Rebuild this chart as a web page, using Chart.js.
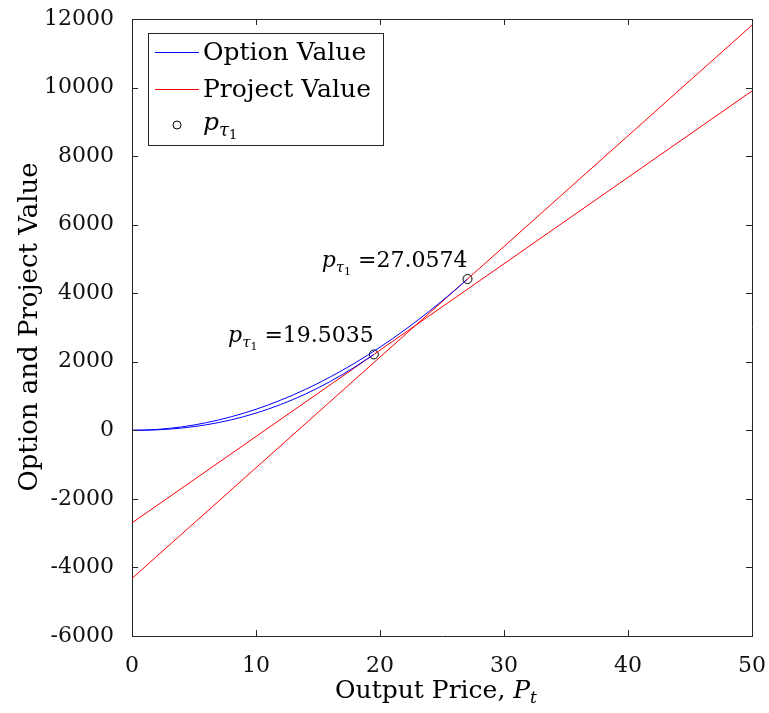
<!DOCTYPE html>
<html>
<head>
<meta charset="utf-8">
<title>Option and Project Value</title>
<script src="https://cdn.jsdelivr.net/npm/chart.js@4.4.0/dist/chart.umd.min.js"></script>
<style>
  html, body { margin: 0; padding: 0; background: #fff; }
  #wrap { width: 769px; height: 713px; }
</style>
</head>
<body>
<div id="wrap"><canvas id="chart" width="769" height="713"></canvas></div>
<script>
'use strict';

// option value curves
var priceGrid1 = [0, 2, 4, 6, 8, 10, 12, 14, 16, 18, 19.5035];
var optionValue1 = [0, 14, 66, 162, 306, 503, 754, 1061, 1427, 1854, 2215];

var priceGrid2 = [0, 2, 4, 6, 8, 10, 12, 14, 16, 18, 20, 22, 24, 26, 27.0574];
var optionValue2 = [0, 25, 100, 224, 396, 615, 882, 1197, 1560, 1970, 2426, 2930, 3481, 4079, 4414];

// project value lines
var projectPrice = [0, 50];
var projectValue1 = [-2700, 9900];
var projectValue2 = [-4320, 11820];

// thresholds
var thresholdPrice = [19.5035, 27.0574];
var thresholdValue = [2215, 4414];
var thresholdLabels = ['19.5035', '27.0574'];

var xRange = [0, 50];
var yRange = [-6000, 12000];

var SERIF = '"DejaVu Serif", "Liberation Serif", serif';
var AXIS = '#262626';

function pts(xs, ys) {
  var out = [];
  for (var i = 0; i < xs.length; i++) {
    out.push({x: xs[i], y: ys[i]});
  }
  return out;
}

// draws p_{tau_1} starting at x, returns width
function drawPTau(ctx, x, y, size, measureOnly) {
  var w = 0;
  ctx.font = 'italic ' + size + 'px ' + SERIF;
  var wp = ctx.measureText('p').width;
  if (!measureOnly) ctx.fillText('p', x, y);
  w += wp;
  var s2 = Math.round(size * 0.7);
  ctx.font = 'italic ' + s2 + 'px ' + SERIF;
  var wt = ctx.measureText('\u03c4').width;
  if (!measureOnly) ctx.fillText('\u03c4', x + w, y + size * 0.22);
  w += wt;
  var s3 = Math.round(size * 0.5);
  ctx.font = s3 + 'px ' + SERIF;
  var w1 = ctx.measureText('1').width;
  if (!measureOnly) ctx.fillText('1', x + w, y + size * 0.36);
  w += w1;
  return w;
}

var matlabAxes = {
  id: 'matlabAxes',
  afterDatasetsDraw: function(chart) {
    var ctx = chart.ctx;
    var a = chart.chartArea;
    var xs = chart.scales.x;
    var ys = chart.scales.y;
    var tl = 6;

    ctx.save();
    ctx.strokeStyle = AXIS;
    ctx.lineWidth = 1;
    ctx.beginPath();
    ctx.moveTo(a.left, a.top + 0.5);
    ctx.lineTo(a.right + 0.5, a.top + 0.5);
    ctx.lineTo(a.right + 0.5, a.bottom);
    ctx.stroke();

    // inward ticks on all four sides
    ctx.beginPath();
    xs.ticks.forEach(function(t) {
      var px = Math.round(xs.getPixelForValue(t.value)) + 0.5;
      ctx.moveTo(px, a.bottom); ctx.lineTo(px, a.bottom - tl);
      ctx.moveTo(px, a.top); ctx.lineTo(px, a.top + tl);
    });
    ys.ticks.forEach(function(t) {
      var py = Math.round(ys.getPixelForValue(t.value)) + 0.5;
      ctx.moveTo(a.left, py); ctx.lineTo(a.left + tl, py);
      ctx.moveTo(a.right, py); ctx.lineTo(a.right - tl, py);
    });
    ctx.stroke();

    // threshold annotations
    ctx.fillStyle = '#000';
    ctx.textBaseline = 'alphabetic';
    ctx.textAlign = 'left';
    for (var i = 0; i < thresholdPrice.length; i++) {
      var px = xs.getPixelForValue(thresholdPrice[i]);
      var py = ys.getPixelForValue(thresholdValue[i]) - 12;
      var txt = ' =' + thresholdLabels[i];
      var wp = drawPTau(ctx, 0, 0, 22, true);
      ctx.font = '22px ' + SERIF;
      var wt = ctx.measureText(txt).width;
      var x0 = px - wp - wt;
      drawPTau(ctx, x0, py, 22, false);
      ctx.font = '22px ' + SERIF;
      ctx.fillText(txt, x0 + wp, py);
    }

    // legend box
    var lx = 148, ly = 33, lw = 235, lh = 112;
    ctx.fillStyle = '#fff';
    ctx.fillRect(lx, ly, lw, lh);
    ctx.strokeStyle = AXIS;
    ctx.strokeRect(lx + 0.5, ly + 0.5, lw, lh);

    var rows = [52, 89, 125];
    ctx.lineWidth = 1;
    ctx.strokeStyle = '#0000ff';
    ctx.beginPath(); ctx.moveTo(155, rows[0] + 0.5); ctx.lineTo(199, rows[0] + 0.5); ctx.stroke();
    ctx.strokeStyle = '#ff0000';
    ctx.beginPath(); ctx.moveTo(155, rows[1] + 0.5); ctx.lineTo(199, rows[1] + 0.5); ctx.stroke();
    ctx.strokeStyle = '#000';
    ctx.beginPath(); ctx.arc(177, rows[2], 4, 0, Math.PI * 2); ctx.stroke();

    ctx.fillStyle = '#000';
    ctx.textBaseline = 'middle';
    ctx.font = '25px ' + SERIF;
    ctx.fillText('Option Value', 203, rows[0] + 1);
    ctx.fillText('Project Value', 203, rows[1] + 1);
    ctx.textBaseline = 'alphabetic';
    drawPTau(ctx, 203, rows[2] + 5, 25, false);

    // axis titles
    ctx.font = '25px ' + SERIF;
    ctx.textBaseline = 'alphabetic';
    var t1 = 'Output Price, ';
    var w1 = ctx.measureText(t1).width;
    ctx.font = 'italic 25px ' + SERIF;
    var wP = ctx.measureText('P').width;
    ctx.font = 'italic 17px ' + SERIF;
    var wtt = ctx.measureText('t').width;
    var cx = 436;
    var sx = cx - (w1 + wP + wtt) / 2;
    var by = 698;
    ctx.font = '25px ' + SERIF;
    ctx.fillText(t1, sx, by);
    ctx.font = 'italic 25px ' + SERIF;
    ctx.fillText('P', sx + w1, by);
    ctx.font = 'italic 17px ' + SERIF;
    ctx.fillText('t', sx + w1 + wP, by + 5);

    ctx.save();
    ctx.translate(37, 327);
    ctx.rotate(-Math.PI / 2);
    ctx.textAlign = 'center';
    ctx.font = '26px ' + SERIF;
    ctx.fillText('Option and Project Value', 0, 0);
    ctx.restore();

    ctx.restore();
  }
};

var ctx = document.getElementById('chart').getContext('2d');

var chart = new Chart(ctx, {
  type: 'scatter',
  data: {
    datasets: [
      {
        label: 'Option Value',
        data: pts(priceGrid1, optionValue1),
        showLine: true,
        borderColor: '#0000ff',
        borderWidth: 1,
        pointRadius: 0,
        cubicInterpolationMode: 'monotone'
      },
      {
        label: 'Option Value 2',
        data: pts(priceGrid2, optionValue2),
        showLine: true,
        borderColor: '#0000ff',
        borderWidth: 1,
        pointRadius: 0,
        cubicInterpolationMode: 'monotone'
      },
      {
        label: 'Project Value',
        data: pts(projectPrice, projectValue1),
        showLine: true,
        borderColor: '#ff0000',
        borderWidth: 1,
        pointRadius: 0
      },
      {
        label: 'Project Value 2',
        data: pts(projectPrice, projectValue2),
        showLine: true,
        borderColor: '#ff0000',
        borderWidth: 1,
        pointRadius: 0
      },
      {
        label: 'p_tau1',
        data: pts(thresholdPrice, thresholdValue),
        showLine: false,
        pointStyle: 'circle',
        pointRadius: 4.5,
        pointBorderWidth: 1,
        borderColor: '#000',
        backgroundColor: 'rgba(0,0,0,0)'
      }
    ]
  },
  options: {
    responsive: false,
    animation: false,
    devicePixelRatio: 1,
    layout: {
      padding: {top: 19, right: 17, left: 0, bottom: 0}
    },
    plugins: {
      legend: {display: false},
      tooltip: {enabled: false}
    },
    scales: {
      x: {
        type: 'linear',
        min: xRange[0],
        max: xRange[1],
        grid: {display: false},
        border: {display: true, color: AXIS, width: 1},
        ticks: {
          stepSize: 10,
          padding: 9,
          color: '#111',
          font: {family: SERIF, size: 22},
          maxRotation: 0,
          callback: function(v) { return String(v); }
        },
        afterFit: function(scale) {
          scale.height = 77;
          scale.paddingLeft = 0;
          scale.paddingRight = 0;
        }
      },
      y: {
        type: 'linear',
        min: yRange[0],
        max: yRange[1],
        grid: {display: false},
        border: {display: true, color: AXIS, width: 1},
        ticks: {
          stepSize: 2000,
          padding: 10,
          color: '#111',
          font: {family: SERIF, size: 22},
          callback: function(v) { return String(v); }
        },
        afterFit: function(scale) {
          scale.width = 132;
          scale.paddingTop = 0;
          scale.paddingBottom = 0;
        }
      }
    }
  },
  plugins: [matlabAxes]
});
</script>
</body>
</html>
